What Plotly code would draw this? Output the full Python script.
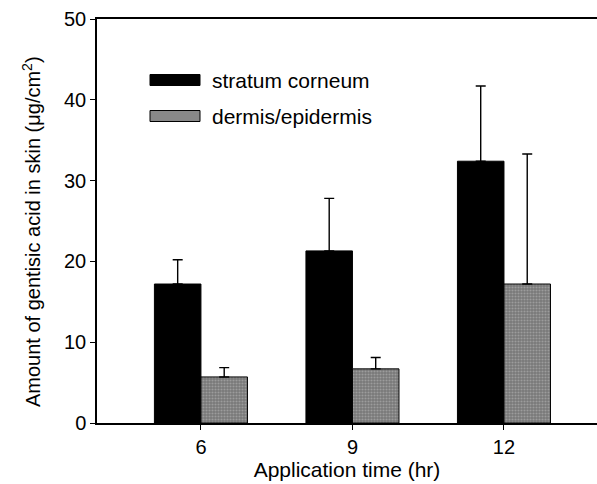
import plotly.graph_objects as go

times = ["6", "9", "12"]
positions = [0, 1, 2]
stratum = [17.2, 21.3, 32.4]
stratum_err = [3.0, 6.5, 9.3]
dermis = [5.7, 6.7, 17.2]
dermis_err = [1.15, 1.4, 16.1]

series_names = ["stratum corneum", "dermis/epidermis"]
y_ticks = [0, 10, 20, 30, 40, 50]
x_title = "Application time (hr)"
y_title = "Amount of gentisic acid in skin (μg/cm<sup>2</sup>)"

FONT = "Liberation Sans, Arial, sans-serif"
bw = 0.307
GRAY_BG = "#787878"
GRAY_FG = "#c0c0c0"

fig = go.Figure()
fig.add_trace(go.Bar(
    x=positions, y=stratum, width=bw, offset=-bw,
    marker=dict(color="black", line=dict(color="black", width=1)),
    error_y=dict(type="data", array=stratum_err, arrayminus=[0]*3, symmetric=False,
                 color="black", thickness=1.4, width=5),
    name=series_names[0], showlegend=False,
))
fig.add_trace(go.Bar(
    x=positions, y=dermis, width=bw, offset=0,
    marker=dict(color=GRAY_BG, line=dict(color="black", width=1),
                pattern=dict(shape=".", fgcolor=GRAY_FG, bgcolor=GRAY_BG, size=3, solidity=0.4)),
    error_y=dict(type="data", array=dermis_err, arrayminus=[0]*3, symmetric=False,
                 color="black", thickness=1.4, width=5),
    name=series_names[1], showlegend=False,
))

# legend drawn manually
leg = [(series_names[0], "black", 80), (series_names[1], "#888888", 116)]
W, H = 597, 484
ml, mr, mt, mb = 97, 0, 19, 61
pw, ph = W - ml - mr, H - mt - mb
def px(x): return (x - ml) / pw
def py(y): return 1 - (y - mt) / ph
for name, col, yc in leg:
    fig.add_shape(type="rect", xref="paper", yref="paper",
                  x0=px(150), x1=px(200), y0=py(yc - 5.5), y1=py(yc + 5.5),
                  fillcolor=col, line=dict(color="black", width=1))
    fig.add_annotation(x=px(210), y=py(yc), xref="paper", yref="paper", text=name,
                       showarrow=False, xanchor="left", yanchor="middle",
                       font=dict(family=FONT, size=21, color="black"))

# y-axis title as rotated annotation
fig.add_annotation(x=px(31), y=py(232), xref="paper", yref="paper", text=y_title,
                   textangle=-90, showarrow=False, xanchor="center", yanchor="middle",
                   font=dict(family=FONT, size=20, color="black"))

fig.update_layout(
    width=W, height=H, margin=dict(l=ml, r=mr, t=mt, b=mb),
    plot_bgcolor="white", paper_bgcolor="white",
    barmode="overlay",
    font=dict(family=FONT, size=20, color="black"),
    xaxis=dict(range=[-0.686, 2.614], tickvals=positions, ticktext=times,
               showline=True, linecolor="black", linewidth=1.5, mirror=True,
               ticks="outside", ticklen=5, tickcolor="black", showgrid=False, zeroline=False,
               tickfont=dict(size=20),
               title=dict(text=x_title, font=dict(size=21), standoff=5)),
    yaxis=dict(range=[0, 50], tickvals=y_ticks,
               showline=True, linecolor="black", linewidth=1.5,
               ticks="outside", ticklen=5, tickcolor="black", showgrid=False, zeroline=False,
               tickfont=dict(size=20)),
)
fig.write_html("out.html")
